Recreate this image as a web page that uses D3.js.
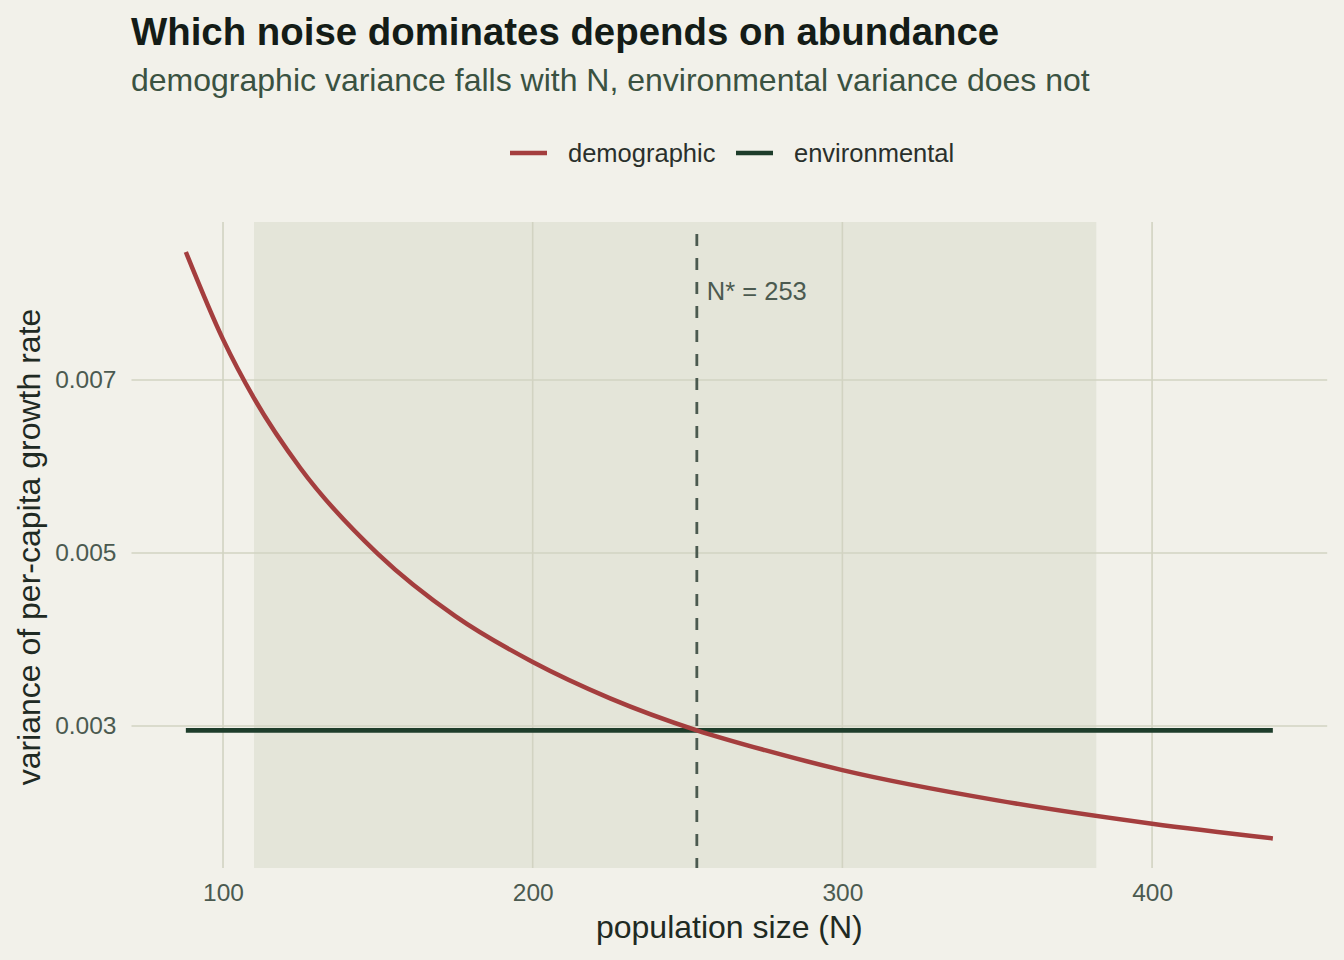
<!DOCTYPE html>
<html><head><meta charset="utf-8">
<script src="https://cdn.jsdelivr.net/npm/d3@7"></script>
<style>html,body{margin:0;padding:0;background:#f2f1ea;}svg{display:block;font-family:"Liberation Sans",Arial,Helvetica,sans-serif;}</style>
</head><body><svg id="c" width="1344" height="960"></svg>
<script>
// ---- data ----
const popSize = [88, 100, 110, 125, 150, 175, 200, 225, 253, 275, 300, 350, 400, 439];
const demographicVar = [0.00848, 0.00747, 0.00679, 0.00598, 0.00499, 0.00427, 0.00374, 0.00332, 0.00295, 0.00272, 0.00249, 0.00214, 0.00187, 0.00170];
const environmentalN = [88, 439];
const environmentalVar = [0.00295, 0.00295];
const crossoverN = [253];
const shadedRange = [110, 382];
const xTicks = [100, 200, 300, 400];
const yTicks = [0.003, 0.005, 0.007];
const seriesNames = ["demographic", "environmental"];
const seriesColors = ["#a43e3e", "#1e3d2b"];

const svg = d3.select("#c");
const W = 1344, H = 960;
svg.append("rect").attr("width", W).attr("height", H).attr("fill", "#f2f1ea");

const x = d3.scaleLinear().domain([70.45, 456.55]).range([131.5, 1327.2]);
const y = d3.scaleLinear().domain([0.001358, 0.008827]).range([868, 222]);
const [x0, x1] = x.range(), [yb, yt] = y.range();

// shaded band
svg.append("rect").attr("x", x(shadedRange[0])).attr("y", yt)
  .attr("width", x(shadedRange[1]) - x(shadedRange[0])).attr("height", yb - yt)
  .attr("fill", "#e4e5d9");

// gridlines
const gridCol = "#d2d3c2";
svg.append("g").selectAll("line").data(xTicks).join("line")
  .attr("x1", d => x(d)).attr("x2", d => x(d)).attr("y1", yt).attr("y2", yb)
  .attr("stroke", gridCol).attr("stroke-width", 1.6);
svg.append("g").selectAll("line").data(yTicks).join("line")
  .attr("x1", x0).attr("x2", x1).attr("y1", d => y(d)).attr("y2", d => y(d))
  .attr("stroke", gridCol).attr("stroke-width", 1.6);

// axes (labels only)
const xAxis = svg.append("g").attr("transform", `translate(0,${yb})`)
  .call(d3.axisBottom(x).tickValues(xTicks).tickSize(0).tickPadding(15.5).tickFormat(d3.format("d")));
xAxis.select(".domain").remove();
xAxis.selectAll("text").attr("font-size", 24.5).attr("fill", "#4b5a50").attr("font-family", "Liberation Sans, Arial, sans-serif");
const yAxis = svg.append("g").attr("transform", `translate(${x0},0)`)
  .call(d3.axisLeft(y).tickValues(yTicks).tickSize(0).tickPadding(15).tickFormat(d3.format(".3f")));
yAxis.select(".domain").remove();
yAxis.selectAll("text").attr("font-size", 24.5).attr("fill", "#4b5a50").attr("font-family", "Liberation Sans, Arial, sans-serif");

// environmental line
const envData = environmentalN.map((n, i) => [n, environmentalVar[i]]);
svg.append("path").datum(envData)
  .attr("d", d3.line().x(d => x(d[0])).y(d => y(d[1])))
  .attr("fill", "none").attr("stroke", seriesColors[1]).attr("stroke-width", 4.7);

// demographic curve
const demData = popSize.map((n, i) => [n, demographicVar[i]]);
svg.append("path").datum(demData)
  .attr("d", d3.line().curve(d3.curveMonotoneX).x(d => x(d[0])).y(d => y(d[1])))
  .attr("fill", "none").attr("stroke", seriesColors[0]).attr("stroke-width", 4.5);

// crossover dashed line
svg.append("g").selectAll("line").data(crossoverN).join("line")
  .attr("x1", d => x(d)).attr("x2", d => x(d)).attr("y1", yt + 12).attr("y2", yb)
  .attr("stroke", "#4b5a50").attr("stroke-width", 2.8).attr("stroke-dasharray", "12,12");
svg.append("g").selectAll("text").data(crossoverN).join("text")
  .attr("x", d => x(d) + 10).attr("y", 300)
  .attr("font-size", 25.5).attr("fill", "#4b5a50").text(d => `N* = ${d}`);

// titles
svg.append("text").attr("x", 131).attr("y", 45).attr("font-size", 38.4).attr("font-weight", "bold")
  .attr("fill", "#141c17").text("Which noise dominates depends on abundance");
svg.append("text").attr("x", 131).attr("y", 91).attr("font-size", 32)
  .attr("fill", "#3a5241").text("demographic variance falls with N, environmental variance does not");

// axis titles
svg.append("text").attr("x", (x0 + x1) / 2).attr("y", 938).attr("text-anchor", "middle")
  .attr("font-size", 32).attr("fill", "#1f2a23").text("population size (N)");
svg.append("text").attr("transform", `translate(40,${(yt + yb) / 2 + 2}) rotate(-90)`).attr("text-anchor", "middle")
  .attr("font-size", 32).attr("fill", "#1f2a23").text("variance of per-capita growth rate");

// legend
const legX = [510, 736];
const leg = svg.append("g");
seriesNames.forEach((name, i) => {
  leg.append("line").attr("x1", legX[i]).attr("x2", legX[i] + 37).attr("y1", 153).attr("y2", 153)
    .attr("stroke", seriesColors[i]).attr("stroke-width", 4.7);
  leg.append("text").attr("x", legX[i] + 58).attr("y", 162).attr("font-size", 25.5)
    .attr("fill", "#2a302c").text(name);
});
</script></body></html>
